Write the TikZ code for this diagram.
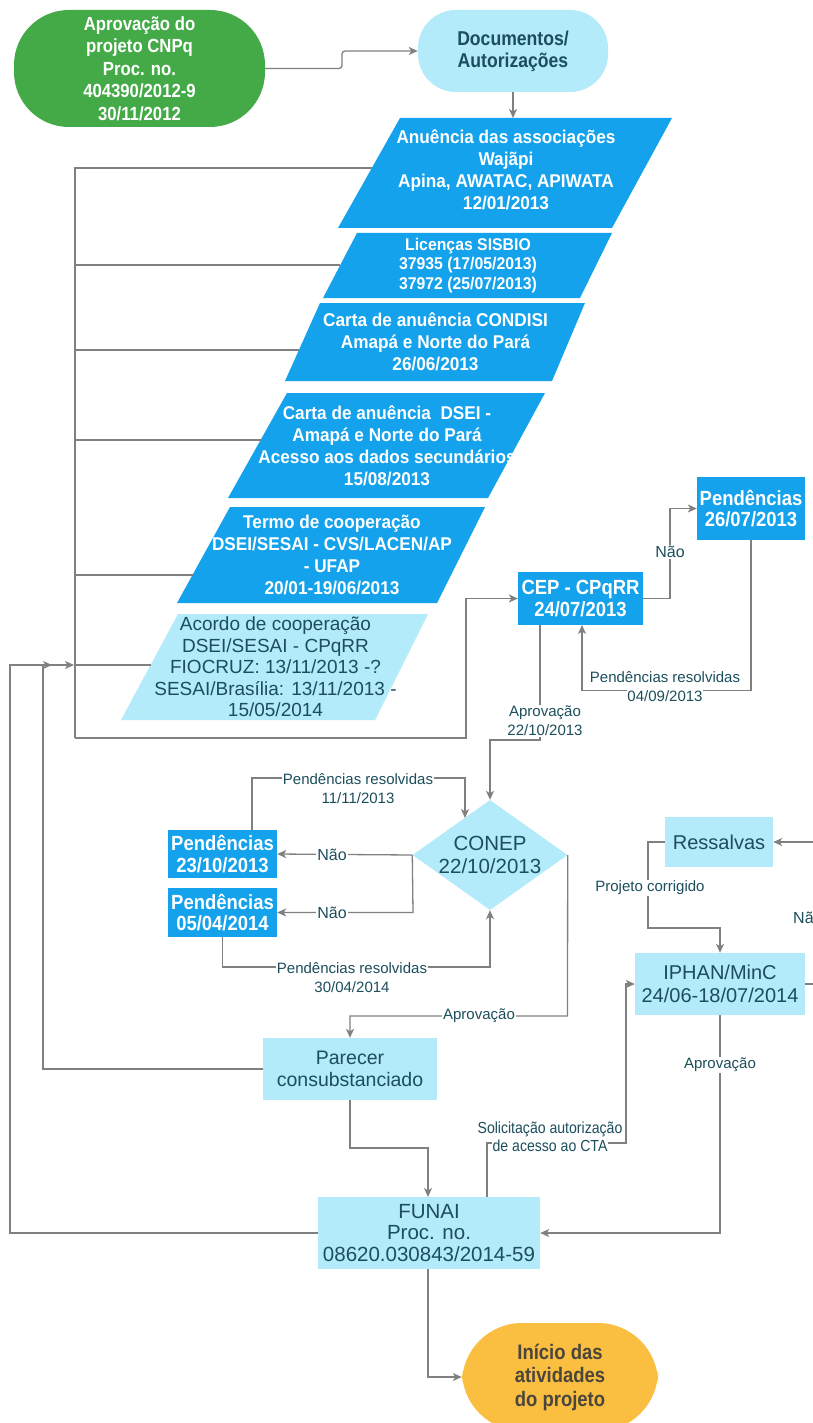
\documentclass[tikz,border=0pt]{standalone}
\usepackage{fontspec}
\setmainfont{Liberation Sans}
\newfontfamily\condf[FakeStretch=0.88]{Liberation Sans}
\newfontfamily\semif[FakeStretch=0.93]{Liberation Sans}
\newfontfamily\semig[FakeStretch=0.9]{Liberation Sans}
\usetikzlibrary{shapes.geometric,arrows.meta}
\definecolor{grn}{RGB}{68,170,72}
\definecolor{ltb}{RGB}{179,235,250}
\definecolor{bbl}{RGB}{20,162,236}
\definecolor{tealt}{RGB}{28,78,92}
\definecolor{lgray}{RGB}{128,128,128}
\definecolor{orng}{RGB}{250,190,65}
\definecolor{drk}{RGB}{75,70,60}
\newcommand{\fs}[2]{\fontsize{#1}{#2}\selectfont}
\newcommand{\wb}[1]{{\fboxsep=0.8pt\colorbox{white}{#1}}}
\begin{document}
\begin{tikzpicture}[x=1pt,y=-1pt,
  conn/.style={draw=lgray, line width=1.3pt},
  arr/.style={conn, -{Stealth[length=9pt,width=8pt,inset=2.5pt]}},
  lbox/.style={fill=ltb, text=tealt, inner sep=0pt, align=center},
  bbox/.style={fill=bbl, text=white, inner sep=0pt, align=center, font=\semig\bfseries\fs{20.5}{21.5}},
  ptxt/.style={text=white, inner sep=0pt, align=center, font=\semif\bfseries\fs{18.5}{22}},
  lab/.style={text=tealt, inner sep=1pt, align=center, font=\fs{15}{19}},
  labw/.style={lab, fill=white}
]
\useasboundingbox (0,0) rectangle (813,1423);
\fill[white] (0,0) rectangle (813,1423);

% start / documents
\node[fill=grn, text=white, inner sep=0pt, align=center, minimum width=251, minimum height=117,
  rounded corners=55, font=\condf\bfseries\fs{19}{22.5}] (apr) at (139.5,68.5)
  {Aprovação do\\projeto CNPq\\Proc. no.\\404390/2012-9\\30/11/2012};
\node[lbox, minimum width=190, minimum height=82, rounded corners=38,
  font=\condf\bfseries\fs{20}{22}] (doc) at (513,51) {Documentos/\\Autorizações};

% parallelograms
\fill[bbl] (400,118) -- (672,118) -- (612,228) -- (338,228) -- cycle;
\node[ptxt] (p1) at (506,170) {Anuência das associações\\Wajãpi\\Apina, AWATAC, APIWATA\\12/01/2013};
\coordinate (p1w) at (372,168);

\fill[bbl] (357,233) -- (612,233) -- (580,298) -- (323,298) -- cycle;
\node[ptxt, font=\semif\bfseries\fs{17}{19.5}] (p2) at (468,265.5) {Licenças SISBIO\\37935 (17/05/2013)\\37972 (25/07/2013)};
\coordinate (p2w) at (340,265);

\fill[bbl] (320,303) -- (585,303) -- (552,381) -- (285,381) -- cycle;
\node[ptxt] (p3) at (435.5,342) {Carta de anuência CONDISI\\Amapá e Norte do Pará\\26/06/2013};
\coordinate (p3w) at (299,350);

\fill[bbl] (287,393) -- (545,393) -- (488,498) -- (228,498) -- cycle;
\node[ptxt] (p4) at (387,445.5) {Carta de anuência\ \ DSEI -\\Amapá e Norte do Pará\\Acesso aos dados secundários\\15/08/2013};
\coordinate (p4w) at (261,440);

\fill[bbl] (230,507) -- (485,507) -- (437,603) -- (177,603) -- cycle;
\node[ptxt] (p5) at (332,555) {Termo de cooperação\\DSEI/SESAI - CVS/LACEN/AP\\- UFAP\\20/01-19/06/2013};
\coordinate (p5w) at (193,575);

\fill[ltb] (178,614) -- (428,614) -- (375,720) -- (121,720) -- cycle;
\node[text=tealt, inner sep=0pt, align=center, font=\fs{19}{21.5}] (p6) at (275.5,667)
  {Acordo de cooperação\\DSEI/SESAI - CPqRR\\FIOCRUZ: 13/11/2013 -?\\SESAI/Brasília: 13/11/2013 -\\15/05/2014};
\coordinate (p6w) at (151,665);

% CEP block
\node[bbox, minimum width=125, minimum height=53] (cep) at (580.5,598.5) {CEP - CPqRR\\24/07/2013};
\node[bbox, minimum width=108, minimum height=63] (pe1) at (751,508.5) {Pendências\\26/07/2013};

% CONEP block
\node[diamond, fill=ltb, minimum width=155, minimum height=110, inner sep=0pt,
  label={[text=tealt, align=center, font=\fs{20.5}{23}]center:CONEP\\22/10/2013}] (conep) at (490,855) {};
\node[bbox, minimum width=109, minimum height=48] (pe2) at (222.5,854) {Pendências\\23/10/2013};
\node[bbox, minimum width=109, minimum height=49] (pe3) at (222.5,912.5) {Pendências\\05/04/2014};

% lower boxes
\node[lbox, minimum width=174, minimum height=62, font=\fs{19.5}{22}] (par) at (350,1069) {Parecer\\consubstanciado};
\node[lbox, minimum width=222, minimum height=72, font=\fs{20.5}{21.5}] (fun) at (429,1233) {FUNAI\\Proc. no.\\08620.030843/2014-59};
\node[lbox, minimum width=108, minimum height=50, font=\fs{20}{22}] (res) at (719,842) {Ressalvas};
\node[lbox, minimum width=170, minimum height=62, font=\fs{20}{23}] (iph) at (720,984) {IPHAN/MinC\\24/06-18/07/2014};
\node[fill=orng, text=drk, inner sep=0pt, align=center, minimum width=196, minimum height=108,
  rounded corners=60, font=\condf\bfseries\fs{21}{23.5}] (ini) at (560,1377) {Início das\\atividades\\do projeto};

\coordinate (rin) at (830,842);
\coordinate (rout) at (830,984);

% connectors: top
\draw[arr, rounded corners=3pt] (apr.east) -- (342,68.5) -- (342,51) -- (doc.west);
\draw[arr] (doc.south) -- (513,118);

% trunk
\draw[conn] (p1w) -- (75,168) -- (75,738);
\draw[conn] (p2w) -- (75,265);
\draw[conn] (p3w) -- (75,350);
\draw[conn] (p4w) -- (75,440);
\draw[conn] (p5w) -- (75,575);
\draw[conn] (p6w) -- (75,665);
\draw[arr] (75,738) -- (466,738) -- (466,598.5) -- (cep.west);
\draw[arr] (par.west) -- (43,1069) -- (43,665) -- (74,665);
\draw[arr] (fun.west) -- (10,1233) -- (10,665) -- (52,665);

% CEP loop
\draw[arr] (cep.east) -- (670,598.5) -- (670,508.5) -- (pe1.west);
\node[labw, font=\fs{16}{19}] (ln1) at (670,552) {Não};
\draw[arr] (pe1.south) -- (751,690.5) -- (582,690.5) -- (582,625);
\node[lab] (lr1) at (665,687) {Pendências resolvidas\\\wb{04/09/2013}};
\draw[arr] (540,625) -- (540,740) -- (490,740) -- (conep.north);
\node[labw] (la1) at (545,721) {Aprovação\\22/10/2013};

% CONEP loops
\draw[arr] (conep.west) -- (pe2.east);
\node[labw, font=\fs{16}{19}] (ln2) at (332,855) {Não};
\draw[arr] (conep.west) -- (413,912.5) -- (pe3.east);
\node[labw, font=\fs{16}{19}] (ln3) at (332,912.5) {Não};
\draw[arr] (252,830) -- (252,778) -- (465,778) -- (465,818);
\node[lab] (lr2) at (358,788) {\wb{Pendências resolvidas}\\11/11/2013};
\draw[arr] (222.5,937) -- (222.5,967) -- (490,967) -- (conep.south);
\node[lab] (lr3) at (352,977) {\wb{Pendências resolvidas}\\30/04/2014};
\draw[arr] (conep.east) -- (567.5,1016) -- (350,1016) -- (par.north);
\node[labw] (la2) at (479,1016) {Aprovação};

% lower
\draw[arr] (par.south) -- (350,1148) -- (428,1148) -- (428,1197);
\draw[arr] (487,1197) -- (487,1143) -- (626,1143) -- (626,984) -- (iph.west);
\node[lab, font=\condf\fs{16}{18}] (ls) at (550,1137) {Solicitação autorização\\\wb{de acesso ao CTA}};
\draw[arr] (iph.south) -- (720,1233) -- (fun.east);
\node[labw] (la3) at (720,1065) {Aprovação};
\draw[arr] (428,1269) -- (428,1377) -- (ini.west);
\draw[arr] (res.west) -- (648,842) -- (648,928) -- (720,928) -- (iph.north);
\node[labw] (lp) at (650,888) {Projeto corrigido};
\draw[arr] (rin) -- (res.east);
\draw[conn] (iph.east) -- (rout);
\node[lab, anchor=west, font=\fs{16}{19}] (ln4) at (792,918) {Não};
\end{tikzpicture}
\end{document}
